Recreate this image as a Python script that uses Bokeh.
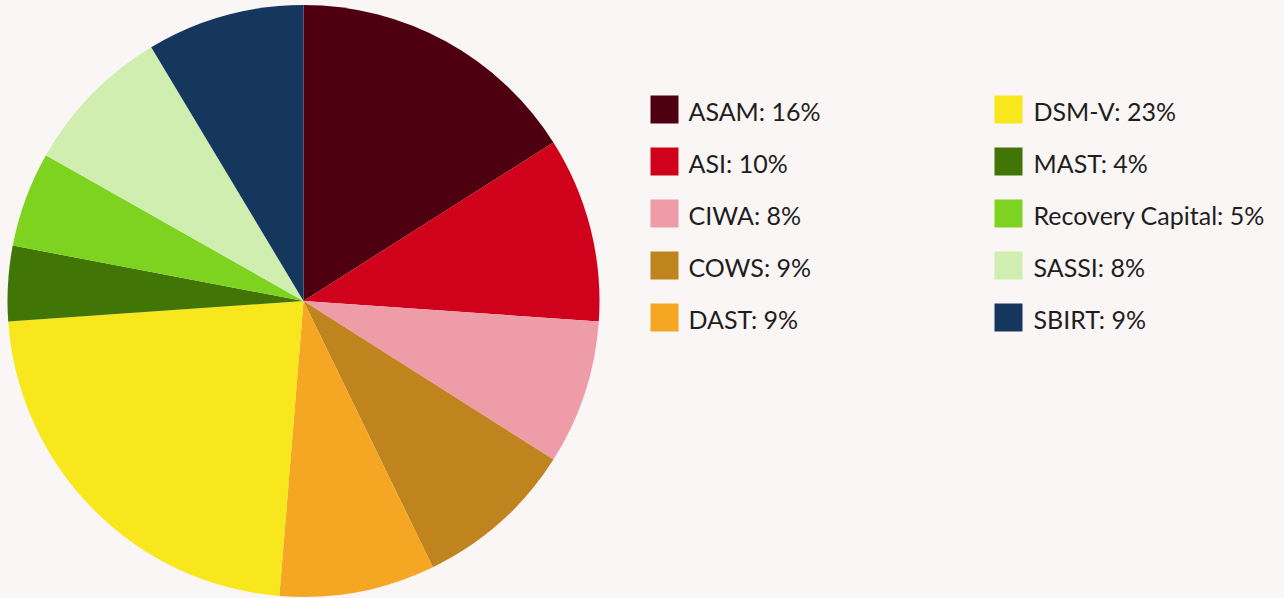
import math
from bokeh.plotting import figure
from bokeh.models import ColumnDataSource, Range1d
from bokeh.core.properties import value
from bokeh.embed import file_html
from bokeh.resources import INLINE

# ---- data ----
categories = ["ASAM", "ASI", "CIWA", "COWS", "DAST", "DSM-V", "MAST",
              "Recovery Capital", "SASSI", "SBIRT"]
shares = [16.0, 10.1, 7.9, 8.8, 8.5, 22.6, 4.1, 5.2, 8.2, 8.6]
colors = ["#4e0010", "#d0021b", "#ee9ca7", "#bf841e", "#f5a623", "#f8e71c",
          "#417505", "#7ed321", "#cfeeb0", "#15375e"]

BG = "#faf6f5"
W, H = 1284, 598

total = sum(shares)
starts, ends = [], []
cum = 0.0
for v in shares:
    a0 = math.pi / 2 - 2 * math.pi * cum / total
    cum += v
    a1 = math.pi / 2 - 2 * math.pi * cum / total
    starts.append(a1)
    ends.append(a0)

labels = [f"{c}: {int(math.floor(v / total * 100 + 0.5))}%" for c, v in zip(categories, shares)]

p = figure(width=W, height=H, output_backend="svg", toolbar_location=None,
           x_range=Range1d(0, W), y_range=Range1d(0, H), min_border=0)
p.axis.visible = False
p.grid.visible = False
p.outline_line_color = None
p.background_fill_color = BG
p.border_fill_color = BG

cx, cy, r = 303, H - 300.5, 296
src = ColumnDataSource(dict(start=starts, end=ends, color=colors, label=labels))
p.wedge(x=cx, y=cy, radius=r, start_angle="start", end_angle="end",
        fill_color="color", line_color=None, source=src)

# legend
lx, ly, tx = [], [], []
for i in range(len(labels)):
    col = i // 5
    row = i % 5
    lx.append(664 if col == 0 else 1008)
    tx.append(688 if col == 0 else 1033)
    ly.append(H - (109 + 52 * row))
leg = ColumnDataSource(dict(x=lx, y=ly, color=colors, tx=tx, text=labels))
p.rect(x="x", y="y", width=28, height=28, fill_color="color", line_color=None, source=leg)
p.text(x="tx", y="y", text="text", source=leg, text_font=value("Lato"),
       text_font_size="25px", text_color="#1e1e1e", text_baseline="middle",
       text_align="left", y_offset=1)

html = file_html(p, INLINE)
html = html.replace("</head>", f"<style>html, body {{ background: {BG}; margin: 0; }}</style></head>", 1)
open("out.html", "w").write(html)
